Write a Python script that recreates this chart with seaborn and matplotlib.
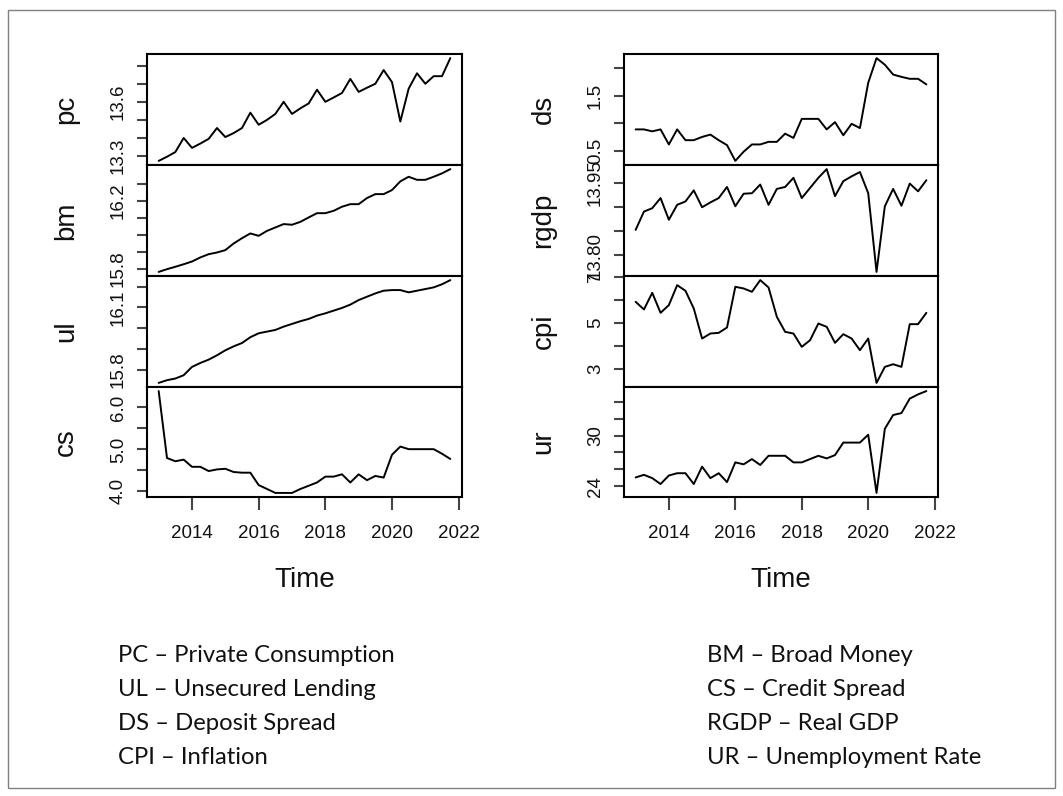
import numpy as np
import pandas as pd
import seaborn as sns
import matplotlib.pyplot as plt
from matplotlib.patches import Rectangle
from matplotlib.ticker import FixedLocator, FixedFormatter

# quarterly observations 2013Q1 .. 2021Q4
TIME = 2013 + 0.25 * np.arange(36)

pc = [13.273, 13.296, 13.322, 13.400, 13.345, 13.369, 13.395, 13.455, 13.405,
      13.427, 13.455, 13.540, 13.473, 13.500, 13.533, 13.600, 13.533, 13.564,
      13.591, 13.667, 13.600, 13.624, 13.649, 13.727, 13.655, 13.678, 13.700,
      13.776, 13.709, 13.491, 13.673, 13.758, 13.700, 13.742, 13.742, 13.842]
bm = [15.784, 15.800, 15.814, 15.829, 15.845, 15.869, 15.888, 15.898, 15.912,
      15.951, 15.982, 16.010, 15.996, 16.025, 16.045, 16.065, 16.061, 16.078,
      16.104, 16.129, 16.129, 16.143, 16.167, 16.182, 16.182, 16.218, 16.241,
      16.241, 16.265, 16.316, 16.343, 16.325, 16.325, 16.343, 16.363, 16.388]
ul = [15.736, 15.749, 15.757, 15.773, 15.813, 15.832, 15.848, 15.869, 15.893,
      15.912, 15.928, 15.956, 15.975, 15.983, 15.991, 16.007, 16.020, 16.033,
      16.044, 16.060, 16.071, 16.084, 16.097, 16.113, 16.135, 16.151, 16.167,
      16.180, 16.183, 16.183, 16.172, 16.180, 16.188, 16.196, 16.211, 16.231]
cs = [6.391, 4.794, 4.717, 4.755, 4.584, 4.584, 4.483, 4.522, 4.537,
      4.460, 4.444, 4.444, 4.148, 4.055, 3.961, 3.961, 3.961, 4.055,
      4.132, 4.210, 4.350, 4.350, 4.405, 4.210, 4.405, 4.265, 4.366,
      4.327, 4.872, 5.067, 5.005, 5.005, 5.005, 5.005, 4.896, 4.771]
ds = [0.891, 0.891, 0.856, 0.891, 0.619, 0.891, 0.696, 0.696, 0.755,
      0.797, 0.696, 0.607, 0.322, 0.488, 0.619, 0.619, 0.666, 0.666,
      0.814, 0.737, 1.081, 1.081, 1.081, 0.891, 1.022, 0.785, 0.992,
      0.915, 1.734, 2.179, 2.060, 1.882, 1.840, 1.805, 1.805, 1.704]
rgdp = [13.852, 13.890, 13.897, 13.918, 13.873, 13.904, 13.911, 13.934, 13.899,
        13.909, 13.918, 13.941, 13.901, 13.927, 13.928, 13.946, 13.904, 13.937,
        13.941, 13.960, 13.918, 13.939, 13.960, 13.978, 13.922, 13.953, 13.963,
        13.972, 13.928, 13.765, 13.901, 13.937, 13.902, 13.948, 13.932, 13.955]
cpi = [5.909, 5.575, 6.302, 5.429, 5.764, 6.636, 6.389, 5.618, 4.309,
       4.527, 4.556, 4.789, 6.564, 6.491, 6.345, 6.855, 6.535, 5.255,
       4.600, 4.527, 3.945, 4.236, 4.964, 4.818, 4.120, 4.498, 4.309,
       3.800, 4.309, 2.375, 3.073, 3.189, 3.073, 4.935, 4.935, 5.429]
ur = [25.05, 25.36, 24.97, 24.27, 25.28, 25.55, 25.55, 24.27, 26.33,
      24.97, 25.55, 24.50, 26.83, 26.60, 27.22, 26.52, 27.61, 27.61,
      27.61, 26.83, 26.83, 27.22, 27.61, 27.30, 27.69, 29.17, 29.17,
      29.17, 30.10, 23.22, 30.80, 32.43, 32.66, 34.37, 34.87, 35.26]

LEFT_NAMES = ['pc', 'bm', 'ul', 'cs']
RIGHT_NAMES = ['ds', 'rgdp', 'cpi', 'ur']
SERIES = {'pc': pc, 'bm': bm, 'ul': ul, 'cs': cs,
          'ds': ds, 'rgdp': rgdp, 'cpi': cpi, 'ur': ur}

# y ticks and the labels that are visible in the picture
YTICKS = {
    'pc': ([13.3, 13.4, 13.5, 13.6, 13.7, 13.8], ['13.3', '', '', '13.6', '', '']),
    'bm': ([15.8, 15.9, 16.0, 16.1, 16.2, 16.3], ['15.8', '', '', '', '16.2', '']),
    'ul': ([15.8, 15.9, 16.0, 16.1, 16.2], ['15.8', '', '', '16.1', '']),
    'cs': ([4.0, 4.5, 5.0, 5.5, 6.0], ['4.0', '', '5.0', '', '6.0']),
    'ds': ([0.5, 1.0, 1.5, 2.0], ['0.5', '', '1.5', '']),
    'rgdp': ([13.80, 13.85, 13.90, 13.95], ['13.80', '', '', '13.95']),
    'cpi': ([3, 4, 5, 6, 7], ['3', '', '5', '', '7']),
    'ur': ([24, 26, 28, 30, 32, 34], ['24', '', '', '30', '', '']),
}
XTICKS = [2014, 2016, 2018, 2020, 2022]

LEGEND_LEFT = ['PC \u2013 Private Consumption', 'UL \u2013 Unsecured Lending',
               'DS \u2013 Deposit Spread', 'CPI \u2013 Inflation']
LEGEND_RIGHT = ['BM \u2013 Broad Money', 'CS \u2013 Credit Spread',
                'RGDP \u2013 Real GDP', 'UR \u2013 Unemployment Rate']

W, H = 1063, 796


def _frac(x0, y0, x1, y1):
    # pixel box (top-left origin) -> figure fraction rect
    return [x0 / W, 1 - y1 / H, (x1 - x0) / W, (y1 - y0) / H]


def _draw_panel(fig, rect, name, bottom):
    ax = fig.add_axes(rect)
    data = pd.DataFrame({'Time': TIME, name: SERIES[name]})
    sns.lineplot(x='Time', y=name, data=data, ax=ax, color='black', linewidth=1.4)

    vals = np.asarray(SERIES[name])
    r = vals.max() - vals.min()
    ax.set_ylim(vals.min() - 0.04 * r, vals.max() + 0.04 * r)
    ax.set_xlim(2013 - 0.35, 2021.75 + 0.35)

    ticks, labels = YTICKS[name]
    ax.yaxis.set_major_locator(FixedLocator(ticks))
    ax.yaxis.set_major_formatter(FixedFormatter(labels))
    ax.tick_params(axis='y', left=True, length=7.5, width=1.5, pad=7,
                   labelsize=13.5, labelrotation=90, color='#444444',
                   labelcolor='#111111')
    for lab in ax.get_yticklabels():
        lab.set_va('center')

    ax.set_ylabel(name, fontsize=20, color='#111111')
    ax.yaxis.set_label_coords(-0.215, 0.5)

    if bottom:
        ax.set_xticks(XTICKS)
        ax.set_xticklabels([str(t) for t in XTICKS])
        ax.tick_params(axis='x', bottom=True, length=9.5, width=1.5, pad=11,
                       labelsize=13.5, color='#444444', labelcolor='#111111')
        ax.set_xlabel('Time', fontsize=20, labelpad=18, color='#111111')
    else:
        ax.set_xticks([])
        ax.set_xlabel('')

    for sp in ax.spines.values():
        sp.set_linewidth(1.5)
        sp.set_color('black')
    return ax


def plot_series():
    sns.set_style('white')
    plt.rcParams['font.family'] = ['Liberation Sans', 'DejaVu Sans']

    fig = plt.figure(figsize=(W / 100, H / 100), dpi=100)
    fig.patch.set_facecolor('white')

    rows = [(54, 165), (165, 276), (276, 387), (387, 497)]
    for i, name in enumerate(LEFT_NAMES):
        _draw_panel(fig, _frac(147, rows[i][0], 462, rows[i][1]), name, i == 3)
    for i, name in enumerate(RIGHT_NAMES):
        _draw_panel(fig, _frac(624, rows[i][0], 938, rows[i][1]), name, i == 3)

    for i, txt in enumerate(LEGEND_LEFT):
        fig.text(118 / W, 1 - (655 + 34 * i) / H, txt, fontsize=17.2,
                 family=['Lato', 'DejaVu Sans'], va='center', ha='left',
                 color='#111111')
    for i, txt in enumerate(LEGEND_RIGHT):
        fig.text(707 / W, 1 - (655 + 34 * i) / H, txt, fontsize=17.2,
                 family=['Lato', 'DejaVu Sans'], va='center', ha='left',
                 color='#111111')

    fig.patches.append(Rectangle((8 / W, 8 / H), 1 - 16 / W, 1 - 18 / H,
                                 transform=fig.transFigure, fill=False,
                                 edgecolor='#808080', linewidth=1))
    fig.savefig('out.png', dpi=100)


if __name__ == '__main__':
    plot_series()
